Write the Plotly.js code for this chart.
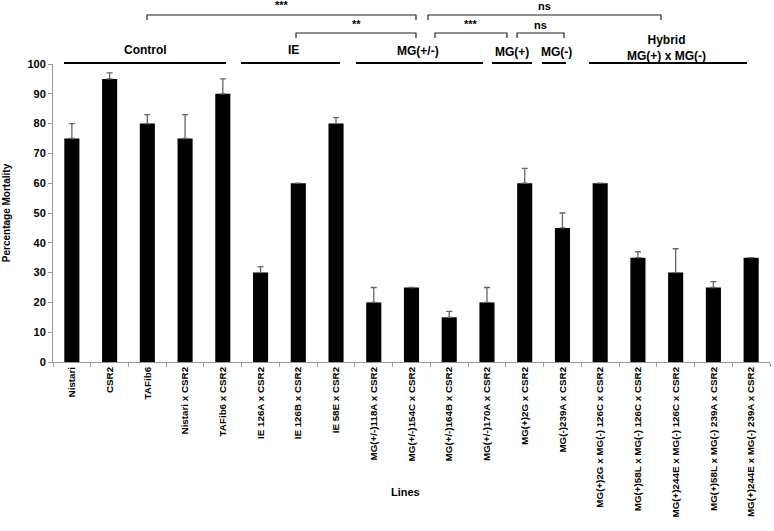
<!DOCTYPE html>
<html><head><meta charset="utf-8">
<script src="https://cdn.plot.ly/plotly-3.0.1.min.js"></script>
<style>html,body{margin:0;padding:0;background:#fff}#chart{width:774px;height:531px}</style>
</head><body><div id="chart"></div>
<script>
const categories = ["Nistari","CSR2","TAFib6","Nistari x CSR2","TAFib6 x CSR2","IE 126A x CSR2","IE 126B x CSR2","IE 58E x CSR2","MG(+/-)118A x CSR2","MG(+/-)154C x CSR2","MG(+/-)164B x CSR2","MG(+/-)170A x CSR2","MG(+)2G x CSR2","MG(-)239A x CSR2","MG(+)2G x MG(-) 126C x CSR2","MG(+)58L x MG(-) 126C x CSR2","MG(+)244E x MG(-) 126C x CSR2","MG(+)58L x MG(-) 239A x CSR2","MG(+)244E x MG(-) 239A x CSR2"];
const mortality = [75,95,80,75,90,30,60,80,20,25,15,20,60,45,60,35,30,25,35];
const errorUp = [5,2,3,8,5,2,0,2,5,0,2,5,5,5,0,2,8,2,0];
const yTicks = [0,10,20,30,40,50,60,70,80,90,100];

const F = "Liberation Sans, Arial, sans-serif";
const x0 = 53, x1 = 770, yb = 362, yt = 64;
const px = p => (p - x0) / (x1 - x0);
const py = p => (yb - p) / (yb - yt);

const shapes = [];
const annotations = [];
function hline(a, b, y, w, c) {
  shapes.push({type:'line', xref:'paper', yref:'paper', x0:px(a), x1:px(b), y0:py(y), y1:py(y), line:{color:c||'#000', width:w||2}});
}
function bracket(a, b, top, bottom, label, ly) {
  shapes.push({type:'path', xref:'paper', yref:'paper',
    path:`M ${px(a)} ${py(bottom)} L ${px(a)} ${py(top)} L ${px(b)} ${py(top)} L ${px(b)} ${py(bottom)}`,
    line:{color:'#222', width:1.2}});
  annotations.push({xref:'paper', yref:'paper', x:px((a+b)/2), y:py(ly), text:label, showarrow:false,
    font:{family:F, size:11, color:'#000', weight:'bold'}, xanchor:'center', yanchor:'middle'});
}
function label(x, y, t) {
  annotations.push({xref:'paper', yref:'paper', x:px(x), y:py(y), text:t, showarrow:false,
    font:{family:F, size:12, color:'#000', weight:'bold'}, xanchor:'center', yanchor:'middle'});
}
// group lines
hline(64,226,63); hline(241,340,63); hline(356,483,63);
hline(492,532,63); hline(542,566,63); hline(589,747,63);
label(145,50,'Control'); label(293,50,'IE'); label(418,51,'MG(+/-)');
label(512,52,'MG(+)'); label(556,52,'MG(-)'); label(666,48,'Hybrid<br>MG(+) x MG(-)');
// significance brackets
bracket(147,416,15,20,'***',5);
bracket(296,416,33,38,'**',24);
bracket(428,661,15,20,'ns',6);
bracket(435,507,33,38,'***',24);
bracket(517,564,33,38,'ns',25);
// x axis title placed like the reference
annotations.push({xref:'paper', yref:'paper', x:px(405), y:py(492), text:'<b>Lines</b>', showarrow:false,
  font:{family:F, size:11, color:'#000'}, xanchor:'center', yanchor:'middle'});

const trace = {
  type:'bar', x:categories, y:mortality, width:0.4,
  marker:{color:'#000', line:{color:'#000', width:0}},
  error_y:{type:'data', symmetric:false, array:errorUp.map(e => e > 0 ? e : NaN), arrayminus:mortality.map(()=>0),
    color:'#666', thickness:1.3, width:3},
  hoverinfo:'x+y'
};

const layout = {
  width:774, height:531,
  margin:{l:53, r:4, t:64, b:169},
  paper_bgcolor:'#fff', plot_bgcolor:'#fff',
  showlegend:false, bargap:0.6,
  font:{family:F, color:'#000'},
  xaxis:{type:'category', tickangle:-90, showgrid:false, showline:true, linecolor:'#999', linewidth:1,
    ticks:'outside', tickson:'boundaries', ticklen:4, tickcolor:'#999',
    tickfont:{family:F, size:9.8, color:'#000', weight:'bold'}},
  yaxis:{range:[0,100], tickvals:yTicks, showgrid:false, showline:true, linecolor:'#999', linewidth:1,
    ticks:'outside', ticklen:4, tickcolor:'#999', zeroline:false,
    tickfont:{family:F, size:11, color:'#000', weight:'bold'},
    title:{text:'<b>Percentage Mortality</b>', font:{family:F, size:10, color:'#000'}, standoff:14}},
  shapes:shapes, annotations:annotations
};
Plotly.newPlot('chart',[trace],layout,{displayModeBar:false, staticPlot:true});
</script></body></html>
